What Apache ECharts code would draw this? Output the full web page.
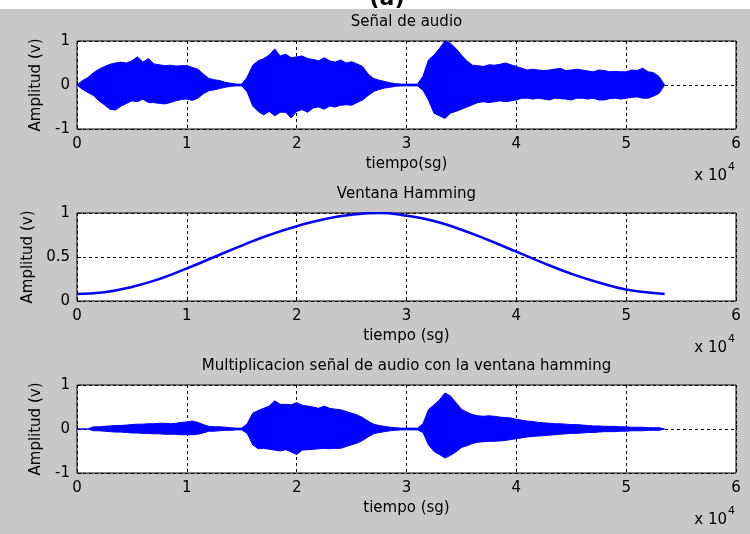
<!DOCTYPE html>
<html>
<head>
<meta charset="utf-8">
<title>Señal de audio y ventana Hamming</title>
<script src="https://cdn.jsdelivr.net/npm/echarts@6/dist/echarts.min.js"></script>
<style>
  html, body { margin: 0; padding: 0; background: #c8c8c8; }
  #chart { width: 750px; height: 534px; }
</style>
</head>
<body>
<div id="chart"></div>
<script>
// paso de muestreo de las envolventes (muestras)
const sampleStep = 500

// señal de audio: envolvente superior / inferior cada 500 muestras
const audioUpper = [
  0, 0.10, 0.17, 0.28, 0.36, 0.42, 0.47, 0.50, 0.52, 0.50, 0.55, 0.64, 0.52, 0.60, 0.48, 0.46, 0.44, 0.45, 0.43, 0.44,
  0.44, 0.40, 0.36, 0.25, 0.15, 0.12, 0.10, 0.06, 0.04, 0.02, 0.02, 0.18, 0.45, 0.55, 0.60, 0.68, 0.82, 0.66, 0.70, 0.62,
  0.64, 0.66, 0.60, 0.58, 0.55, 0.62, 0.55, 0.52, 0.57, 0.50, 0.53, 0.48, 0.42, 0.25, 0.15, 0.11, 0.08, 0.05, 0.03, 0.02,
  0.02, 0.02, 0.02, 0.20, 0.57, 0.68, 0.83, 1.00, 0.95, 0.83, 0.68, 0.55, 0.45, 0.44, 0.42, 0.46, 0.45, 0.47, 0.50, 0.46,
  0.42, 0.38, 0.34, 0.36, 0.34, 0.33, 0.34, 0.36, 0.38, 0.33, 0.34, 0.36, 0.34, 0.32, 0.30, 0.34, 0.33, 0.30, 0.31, 0.30,
  0.30, 0.34, 0.33, 0.38, 0.30, 0.28, 0.19, 0
]
const audioLower = [
  0, -0.10, -0.17, -0.24, -0.36, -0.45, -0.55, -0.57, -0.48, -0.42, -0.36, -0.38, -0.32, -0.40, -0.40, -0.42, -0.43, -0.40, -0.36, -0.33,
  -0.32, -0.35, -0.30, -0.20, -0.13, -0.11, -0.08, -0.05, -0.03, -0.02, -0.02, -0.16, -0.48, -0.60, -0.68, -0.60, -0.70, -0.62, -0.62, -0.75,
  -0.60, -0.56, -0.62, -0.52, -0.50, -0.55, -0.48, -0.50, -0.46, -0.45, -0.46, -0.40, -0.34, -0.24, -0.15, -0.10, -0.07, -0.05, -0.03, -0.02,
  -0.02, -0.02, -0.02, -0.12, -0.34, -0.64, -0.70, -0.76, -0.64, -0.60, -0.55, -0.50, -0.45, -0.40, -0.38, -0.40, -0.38, -0.36, -0.38, -0.36,
  -0.34, -0.30, -0.30, -0.32, -0.30, -0.32, -0.34, -0.30, -0.31, -0.32, -0.34, -0.30, -0.30, -0.32, -0.30, -0.34, -0.34, -0.31, -0.30, -0.32,
  -0.30, -0.28, -0.27, -0.30, -0.30, -0.25, -0.19, 0
]

// ventana Hamming
const hammingTime = [0, 2500, 5000, 7500, 10000, 12500, 15000, 17500, 20000, 22500, 25000, 27500,
  30000, 32500, 35000, 37500, 40000, 42500, 45000, 47500, 50000, 52500, 53500]
const hammingValue = [0.08, 0.10, 0.16, 0.25, 0.37, 0.50, 0.63, 0.75, 0.85, 0.93, 0.98, 1.0,
  0.97, 0.91, 0.81, 0.69, 0.56, 0.43, 0.31, 0.21, 0.13, 0.09, 0.08]

// señal multiplicada por la ventana
const productUpper = [
  0, 0, 0, 0.05, 0.05, 0.06, 0.07, 0.08, 0.08, 0.09, 0.10, 0.11, 0.11, 0.12, 0.12, 0.13, 0.13, 0.12, 0.13, 0.15,
  0.16, 0.18, 0.15, 0.10, 0.06, 0.05, 0.05, 0.04, 0.03, 0.02, 0.02, 0.12, 0.36, 0.42, 0.47, 0.52, 0.64, 0.56, 0.56, 0.55,
  0.60, 0.54, 0.52, 0.50, 0.47, 0.52, 0.47, 0.45, 0.44, 0.40, 0.36, 0.32, 0.26, 0.18, 0.11, 0.08, 0.06, 0.04, 0.03, 0.02,
  0.02, 0.02, 0.02, 0.12, 0.44, 0.55, 0.66, 0.82, 0.75, 0.60, 0.45, 0.38, 0.33, 0.30, 0.29, 0.30, 0.29, 0.27, 0.26, 0.25,
  0.22, 0.20, 0.18, 0.17, 0.15, 0.14, 0.13, 0.12, 0.12, 0.11, 0.10, 0.10, 0.09, 0.08, 0.07, 0.07, 0.06, 0.06, 0.06, 0.05,
  0.05, 0.04, 0.04, 0.04, 0.03, 0.03, 0.03, 0
]
const productLower = [
  0, 0, 0, -0.04, -0.04, -0.05, -0.06, -0.07, -0.07, -0.08, -0.09, -0.09, -0.10, -0.10, -0.11, -0.11, -0.12, -0.12, -0.12, -0.13,
  -0.13, -0.13, -0.12, -0.09, -0.05, -0.05, -0.04, -0.03, -0.03, -0.02, -0.02, -0.10, -0.36, -0.45, -0.44, -0.46, -0.48, -0.50, -0.47, -0.52,
  -0.58, -0.48, -0.47, -0.46, -0.45, -0.44, -0.45, -0.44, -0.44, -0.40, -0.36, -0.32, -0.26, -0.18, -0.11, -0.08, -0.06, -0.04, -0.03, -0.02,
  -0.02, -0.02, -0.02, -0.08, -0.36, -0.51, -0.58, -0.66, -0.60, -0.52, -0.42, -0.38, -0.33, -0.30, -0.29, -0.28, -0.28, -0.27, -0.26, -0.24,
  -0.22, -0.20, -0.18, -0.17, -0.16, -0.15, -0.14, -0.13, -0.12, -0.11, -0.10, -0.10, -0.09, -0.08, -0.08, -0.07, -0.06, -0.06, -0.06, -0.05,
  -0.05, -0.04, -0.04, -0.04, -0.03, -0.03, -0.03, 0
]

// textos
const panelTitles = ['Señal de audio', 'Ventana Hamming', 'Multiplicacion señal de audio con la ventana hamming']
const xNames = ['tiempo(sg)', 'tiempo (sg)', 'tiempo (sg)']
const yName = 'Amplitud (v)'
const xTickScale = 10000

const FONT = 'DejaVu Sans'
const BLUE = '#0000ff'
const gridTops = [41, 213, 385]
const gridHeight = 88
const gridLeft = 77
const gridWidth = 659

const toPairs = (values, step) => values.map((v, i) => [i * step, v])

const envelopeSeries = (values, idx) => ({
  type: 'line',
  xAxisIndex: idx,
  yAxisIndex: idx,
  data: toPairs(values, sampleStep),
  showSymbol: false,
  lineStyle: { color: BLUE, width: 1 },
  areaStyle: { color: BLUE, opacity: 1 },
  z: 3
})

const chart = echarts.init(document.getElementById('chart'))

const option = {
  backgroundColor: '#c8c8c8',
  animation: false,
  textStyle: { fontFamily: FONT },
  grid: gridTops.map(top => ({
    left: gridLeft, top: top, width: gridWidth, height: gridHeight,
    show: true, backgroundColor: '#ffffff', borderColor: '#000', borderWidth: 1
  })),
  xAxis: gridTops.map((_, i) => ({
    type: 'value',
    gridIndex: i,
    min: 0,
    max: 60000,
    interval: 10000,
    name: xNames[i],
    nameLocation: 'middle',
    nameGap: 28,
    nameTextStyle: { color: '#000', fontSize: 15, fontFamily: FONT },
    axisLine: { show: false },
    axisTick: { inside: true, length: 4, lineStyle: { color: '#000' } },
    axisLabel: { color: '#000', fontSize: 15, margin: 8, fontFamily: FONT, formatter: v => String(v / xTickScale) },
    splitLine: { show: true, lineStyle: { color: '#000', width: 1, type: [3, 3] } }
  })),
  yAxis: gridTops.map((_, i) => ({
    type: 'value',
    gridIndex: i,
    min: i === 1 ? 0 : -1,
    max: 1,
    interval: i === 1 ? 0.5 : 1,
    name: yName,
    nameLocation: 'middle',
    nameRotate: 90,
    nameGap: 33,
    nameTextStyle: { color: '#000', fontSize: 15, fontFamily: FONT },
    axisLine: { show: false },
    axisTick: { inside: true, length: 4, lineStyle: { color: '#000' } },
    axisLabel: { color: '#000', fontSize: 15, margin: 7, fontFamily: FONT },
    splitLine: { show: true, lineStyle: { color: '#000', width: 1, type: [3, 3] } }
  })),
  series: [
    envelopeSeries(audioUpper, 0),
    envelopeSeries(audioLower, 0),
    {
      type: 'line',
      xAxisIndex: 1,
      yAxisIndex: 1,
      data: hammingTime.map((t, i) => [t, hammingValue[i]]),
      showSymbol: false,
      smooth: 0.5,
      lineStyle: { color: BLUE, width: 2.5 },
      z: 3
    },
    envelopeSeries(productUpper, 2),
    envelopeSeries(productLower, 2)
  ],
  graphic: [
    // franja blanca superior con el "(a)" cortado
    { type: 'rect', left: 0, top: 0, shape: { width: 750, height: 9 }, style: { fill: '#ffffff' }, z: 10 },
    { type: 'text', x: 387, y: 10, z: 11,
      style: { text: '(a)', fill: '#000', font: 'bold 22px ' + FONT, textAlign: 'center', textVerticalAlign: 'bottom' } },
    ...gridTops.flatMap((top, i) => [
      { type: 'text', x: gridLeft + gridWidth / 2, y: top - 19,
        style: { text: panelTitles[i], fill: '#000', font: '15px ' + FONT, textAlign: 'center', textVerticalAlign: 'middle' } },
      { type: 'text', x: 727, y: top + 135,
        style: { text: 'x 10', fill: '#000', font: '15px ' + FONT, textAlign: 'right', textVerticalAlign: 'middle' } },
      { type: 'text', x: 728, y: top + 126,
        style: { text: '4', fill: '#000', font: '11px ' + FONT, textAlign: 'left', textVerticalAlign: 'middle' } }
    ])
  ]
}

chart.setOption(option)

window.addEventListener('resize', () => {
  chart && chart.resize()
})
</script>
</body>
</html>
